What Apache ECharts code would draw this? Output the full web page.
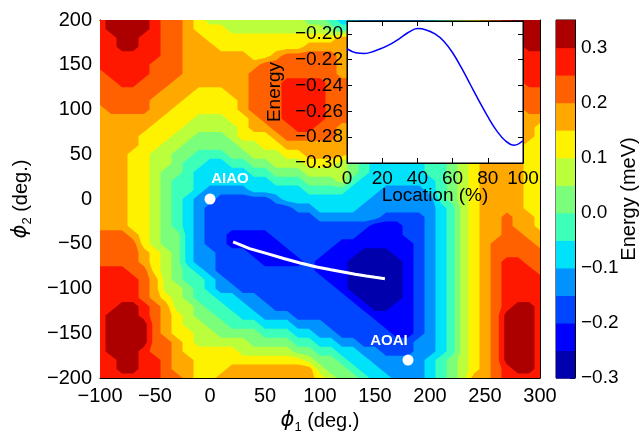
<!DOCTYPE html>
<html><head><meta charset="utf-8">
<script src="https://cdn.jsdelivr.net/npm/echarts@6/dist/echarts.min.js"></script>
<style>html,body{margin:0;padding:0;background:#fff}#c{width:639px;height:437px}</style>
</head><body><div id="c"></div>
<script>
// ---- data ----
const phi1Cells = [-100,-90,-80,-70,-60,-50,-40,-30,-20,-10,0,10,20,30,40,50,60,70,80,90,100,110,120,130,140,150,160,170,180,190,200,210,220,230,240,250,260,270,280,290,300];
const phi2Cells = [200,190,180,170,160,150,140,130,120,110,100,90,80,70,60,50,40,30,20,10,0,-10,-20,-30,-40,-50,-60,-70,-80,-90,-100,-110,-120,-130,-140,-150,-160,-170,-180,-190,-200];
// energy band index (hex 0..c) read at each grid point; rows phi2 = 200 .. -200, columns phi1 = -100 .. 300
const energyBandRows = [
"bccccbaa987777777776654" + "4333333456789abc" + "cc",
"bccccbaa988877777777765" + "5433333456789abc" + "cc",
"bbccbbaa998888888888889" + "9754334567899abb" + "cc",
"bbccbbaa999888888889999" + "9865444567899abb" + "cc",
"bbbbbbaa999999889aaaaa9" + "9876555678999abb" + "bb",
"bbbbbaaa9999999aaaaaaa9" + "9987666789999aab" + "bb",
"abbbbaaa999999aaaaaaaa9" + "9998777889999aaa" + "bb",
"aabbaaa9999999aaabbbbaa" + "a999888889999aaa" + "bb",
"aaaaaa99988899aaabbbbaa" + "a999988889999aaa" + "aa",
"aaaaa999888889aaabbbbaa" + "a9999888899999aa" + "aa",
"9aaaa998888889aaabbbbaa" + "a999988889999999" + "aa",
"999999888777889aabbbbaa" + "a999888889999999" + "99",
"9999988877777899aabbaa9" + "9998877788999999" + "98",
"99998887766678889aaaaa9" + "9987766678899999" + "98",
"99998877666667788999999" + "9876655567889999" + "88",
"99988776655566777889999" + "8765544456788999" + "88",
"99988776554455667778887" + "6544444556789999" + "88",
"99988766544444556667777" + "6544444556789999" + "88",
"99988765544444445556667" + "5444444456789999" + "88",
"99988765543333444445555" + "4443333456789999" + "88",
"99988765433222223444444" + "4433333356789999" + "88",
"99988765432222222233444" + "4333333345789999" + "88",
"99988765432222222222333" + "33322223457899a9" + "98",
"99988765432222222222222" + "22111223457899a9" + "98",
"aaa98766432211112222222" + "21111223457899aa" + "99",
"aaaa8766432211111222221" + "1111112345789aaa" + "a9",
"aaaa9876433222111122211" + "1000112345789aaa" + "aa",
"aaaa9876433222211112111" + "0000012345789abb" + "aa",
"bbbaa876543222222222111" + "0000012345789abb" + "ba",
"bbbba976554322222222211" + "0000012345789abb" + "bb",
"bbbba977654332222222221" + "0000012345789abb" + "bb",
"bbbba987655443322222222" + "1000012345789abb" + "bb",
"bbccba97765544332222222" + "2100112345789abc" + "cb",
"bcccba98766554433322222" + "2211112345789acc" + "cb",
"bcccca98776655544433322" + "2221112345789acc" + "cb",
"bcccca98877666655544332" + "2222112345789acc" + "cb",
"bccccaa9877777666655443" + "3222223345789acc" + "cb",
"bcccbaa9888887777766554" + "4332223345789acc" + "cb",
"bbccbba9988888888887665" + "4433333456789acc" + "cb",
"bbccbba9988899999999766" + "5443333456789abc" + "cb",
"bbbbbbaa988999999999876" + "6544333456799abb" + "bb"
];
const energyLevels = [-0.30,-0.25,-0.20,-0.15,-0.10,-0.05,0.00,0.05,0.10,0.15,0.20,0.25,0.30,0.35];
const bandColors = ['#0000ac','#0000ff','#0045ff','#0093ff','#00e2fa','#3cffba','#7bff7b','#bbff3c','#fff200','#ffa900','#ff6100','#ff1800','#ac0000'];
const pathPhi1 = [21,36,52,67,82,97,110,121,132,142,150,159];
const pathPhi2 = [-48,-55.5,-61,-66.5,-71.5,-76,-79,-81.5,-84,-86,-87.5,-89];
const stateNames = ['AIAO','AOAI'];
const statePhi1 = [0,180];
const statePhi2 = [0,-180];
const insetLocation = [0,5,10,15,20,25,30,35,40,45,50,55,60,65,70,75,80,85,90,95,100];
const insetEnergy = [-0.2115,-0.2146,-0.2151,-0.2136,-0.2110,-0.2077,-0.2035,-0.1987,-0.1959,-0.1969,-0.2000,-0.2056,-0.2146,-0.2262,-0.2390,-0.2518,-0.2641,-0.2749,-0.2828,-0.2862,-0.2828];

// ---- build ----
const FONT = 'Liberation Sans, Arial, sans-serif';
const MINUS = '\u2212';
const bandGrid = energyBandRows.map(row => Array.from(row).map(ch => parseInt(ch, 16)));
const nR = phi2Cells.length, nC = phi1Cells.length;
// one item per filled level: region where the read band index >= level
const levelData = bandColors.map((col, k) => [phi1Cells[0], phi2Cells[0], k]);
const cbData = bandColors.map((col, i) => [0.5, energyLevels[i], i]);
const pathData = pathPhi1.map((v, i) => [v, pathPhi2[i]]);
const stateData = stateNames.map((n, i) => ({name: n, value: [statePhi1[i], statePhi2[i]],
  label: {offset: i === 0 ? [20, -20] : [-19, -19]}}));
const insetData = insetLocation.map((v, i) => [v, insetEnergy[i]]);

function levelPath(api, k) {
  const t = k - 0.5;
  const parts = [];
  for (let r = 0; r < nR - 1; r++) {
    for (let c = 0; c < nC - 1; c++) {
      const cs = [[c, r], [c + 1, r], [c + 1, r + 1], [c, r + 1]];
      const vs = cs.map(p => bandGrid[p[1]][p[0]]);
      if (vs[0] < t && vs[1] < t && vs[2] < t && vs[3] < t) continue;
      const pts = [];
      for (let i = 0; i < 4; i++) {
        const j = (i + 1) % 4;
        const a = cs[i], b = cs[j];
        const va = vs[i], vb = vs[j];
        if (va >= t) pts.push([phi1Cells[a[0]], phi2Cells[a[1]]]);
        if ((va >= t) !== (vb >= t)) {
          const f = (t - va) / (vb - va);
          pts.push([phi1Cells[a[0]] + f * (phi1Cells[b[0]] - phi1Cells[a[0]]),
                    phi2Cells[a[1]] + f * (phi2Cells[b[1]] - phi2Cells[a[1]])]);
        }
      }
      const px = pts.map(p => api.coord(p));
      parts.push('M' + px.map(p => p[0].toFixed(2) + ' ' + p[1].toFixed(2)).join('L') + 'Z');
    }
  }
  return parts.join('');
}

function fmtInt(v) { return v < 0 ? MINUS + Math.abs(v) : String(v); }
function fmtCb(v) {
  const k = Math.round(v * 10);
  if (Math.abs(v * 10 - k) > 1e-6) return '';
  const s = Math.abs(k / 10).toFixed(1);
  return k < 0 ? MINUS + s : s;
}
function fmtInset(v) {
  const k = Math.round(v / 0.02);
  if (Math.abs(v - k * 0.02) > 1e-6) return '';
  const s = Math.abs(v).toFixed(2);
  return v < 0 ? MINUS + s : s;
}
const tick = {inside: true, length: 6, lineStyle: {color: '#000', width: 1}};
const line = {onZero: false, lineStyle: {color: '#000', width: 1}};
const nameRich = {
  p: {fontSize: 21, fontStyle: 'italic', fontFamily: 'DejaVu Sans', lineHeight: 26, verticalAlign: 'middle', color: '#000'},
  s: {fontSize: 13, fontFamily: FONT, lineHeight: 13, verticalAlign: 'bottom', color: '#000'},
  t: {fontSize: 20, fontFamily: FONT, lineHeight: 26, verticalAlign: 'middle', color: '#000'}
};

const chart = echarts.init(document.getElementById('c'), null, {renderer: 'canvas'});
chart.setOption({
  animation: false,
  backgroundColor: '#fff',
  grid: [
    {left: 100, top: 20, width: 440, height: 358, outerBoundsMode: 'none', containLabel: false},
    {left: 347, top: 21, width: 176, height: 142, show: true, backgroundColor: '#fff', borderColor: '#000', borderWidth: 1, zlevel: 1, z: 0, outerBoundsMode: 'none', containLabel: false},
    {left: 556, top: 20, width: 19, height: 358, show: true, borderColor: '#000', borderWidth: 1, outerBoundsMode: 'none', containLabel: false}
  ],
  xAxis: [
    {type: 'value', gridIndex: 0, min: -100, max: 300, interval: 50, position: 'bottom',
      axisLine: line, axisTick: tick, splitLine: {show: false},
      axisLabel: {fontSize: 20, color: '#000', fontFamily: FONT, margin: 8, formatter: fmtInt, showMinLabel: true, showMaxLabel: true, hideOverlap: false},
      name: '{p|\u03d5}{s|1}{t| (deg.)}', nameLocation: 'middle', nameGap: 30, nameMoveOverlap: false,
      nameTextStyle: {rich: nameRich}},
    {type: 'value', gridIndex: 0, min: -100, max: 300, interval: 50, position: 'top',
      axisLine: line, axisTick: tick, axisLabel: {show: false}, splitLine: {show: false}},
    {type: 'value', gridIndex: 1, min: 0, max: 100, interval: 20, position: 'bottom', zlevel: 1,
      axisLine: line, axisTick: {inside: true, length: 5, lineStyle: {color: '#000'}}, splitLine: {show: false},
      axisLabel: {fontSize: 19, color: '#000', fontFamily: FONT, margin: 6, showMinLabel: true, showMaxLabel: true, hideOverlap: false},
      name: 'Location (%)', nameLocation: 'middle', nameGap: 23, nameMoveOverlap: false,
      nameTextStyle: {fontSize: 19, color: '#000', fontFamily: FONT}},
    {type: 'value', gridIndex: 1, min: 0, max: 100, interval: 20, position: 'top', zlevel: 1,
      axisLine: line, axisTick: {inside: true, length: 5, lineStyle: {color: '#000'}}, axisLabel: {show: false}, splitLine: {show: false}},
    {type: 'value', gridIndex: 2, min: 0, max: 1, show: false}
  ],
  yAxis: [
    {type: 'value', gridIndex: 0, min: -200, max: 200, interval: 50, position: 'left',
      axisLine: line, axisTick: tick, splitLine: {show: false},
      axisLabel: {fontSize: 20, color: '#000', fontFamily: FONT, margin: 8, formatter: fmtInt, showMinLabel: true, showMaxLabel: true, hideOverlap: false},
      name: '{p|\u03d5}{s|2}{t| (deg.)}', nameLocation: 'middle', nameGap: 66, nameMoveOverlap: false,
      nameTextStyle: {rich: nameRich}},
    {type: 'value', gridIndex: 0, min: -200, max: 200, interval: 50, position: 'right',
      axisLine: line, axisTick: tick, axisLabel: {show: false}, splitLine: {show: false}},
    {type: 'value', gridIndex: 1, min: -0.30, max: -0.19, interval: 0.02, position: 'left', zlevel: 1,
      axisLine: line, axisTick: {inside: true, length: 5, lineStyle: {color: '#000'}}, splitLine: {show: false},
      axisLabel: {fontSize: 19, color: '#000', fontFamily: FONT, margin: 4, formatter: fmtInset, showMinLabel: true, showMaxLabel: true, hideOverlap: false},
      name: 'Energy', nameLocation: 'middle', nameGap: 63, nameMoveOverlap: false,
      nameTextStyle: {fontSize: 19, color: '#000', fontFamily: FONT}},
    {type: 'value', gridIndex: 1, min: -0.30, max: -0.19, interval: 0.02, position: 'right', zlevel: 1,
      axisLine: line, axisTick: {inside: true, length: 5, lineStyle: {color: '#000'}}, axisLabel: {show: false}, splitLine: {show: false}},
    {type: 'value', gridIndex: 2, min: -0.30, max: 0.35, interval: 0.1, position: 'right',
      axisLine: line, axisTick: {inside: true, length: 5, lineStyle: {color: '#000'}}, splitLine: {show: false},
      axisLabel: {fontSize: 19, color: '#000', fontFamily: FONT, margin: 6, formatter: fmtCb, showMinLabel: true, showMaxLabel: true, hideOverlap: false},
      name: 'Energy (meV)', nameLocation: 'middle', nameGap: 44, nameMoveOverlap: false,
      nameTextStyle: {fontSize: 20, color: '#000', fontFamily: FONT}}
  ],
  series: [
    {type: 'custom', xAxisIndex: 0, yAxisIndex: 0, z: 1, silent: true, data: levelData,
      encode: {x: 0, y: 1},
      renderItem: function (params, api) {
        const k = api.value(2);
        const d = levelPath(api, k);
        if (!d) return;
        return {type: 'path', shape: {pathData: d}, style: {fill: bandColors[k], stroke: null}};
      }},
    {type: 'line', xAxisIndex: 0, yAxisIndex: 0, z: 3, data: pathData, symbol: 'none', silent: true,
      lineStyle: {color: '#fff', width: 3}},
    {type: 'scatter', xAxisIndex: 0, yAxisIndex: 0, z: 4, data: stateData, symbolSize: 11, silent: true,
      itemStyle: {color: '#fff', opacity: 1},
      label: {show: true, position: 'inside', formatter: '{b}', color: '#fff', fontWeight: 'bold', fontSize: 15, fontFamily: FONT}},
    {type: 'line', xAxisIndex: 2, yAxisIndex: 2, zlevel: 1, z: 5, data: insetData, symbol: 'none', smooth: 0.4, silent: true,
      lineStyle: {color: '#0000ff', width: 1.5}},
    {type: 'custom', xAxisIndex: 4, yAxisIndex: 4, data: cbData, silent: true, encode: {x: 0, y: 1},
      renderItem: function (params, api) {
        const i = api.value(2);
        const p0 = api.coord([0, energyLevels[i + 1]]);
        const p1 = api.coord([1, energyLevels[i]]);
        return {type: 'rect', shape: {x: p0[0], y: p0[1], width: p1[0] - p0[0], height: p1[1] - p0[1] + 0.6},
          style: {fill: bandColors[i]}};
      }}
  ]
});
</script></body></html>
